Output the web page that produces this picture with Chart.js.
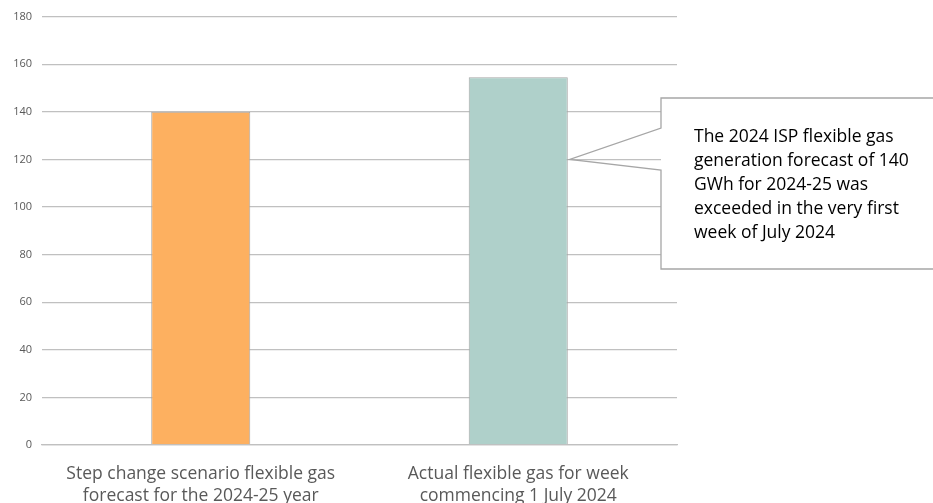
<!DOCTYPE html>
<html>
<head>
<meta charset="utf-8">
<script src="https://cdn.jsdelivr.net/npm/chart.js@4"></script>
<style>
html,body{margin:0;padding:0;background:#fff;}
#wrap{width:933px;height:503px;position:relative;}
</style>
</head>
<body>
<div id="wrap"><canvas id="gasChart"></canvas></div>
<script>
// categories and values
const categories = [
  ['Step change scenario flexible gas', 'forecast for the 2024-25 year'],
  ['Actual flexible gas for week', 'commencing 1 July 2024']
];
const gasValues = [140, 154.5];
const barColours = ['#FDB060', '#AFD0CA'];
const calloutLines = [
  'The 2024 ISP flexible gas',
  'generation forecast of 140',
  'GWh for 2024-25 was',
  'exceeded in the very first',
  'week of July 2024'
];
const calloutTarget = 120; // value where the pointer touches bar 2

//////////// callout box drawn over the chart
const calloutPlugin = {
  id: 'callout',
  afterDraw(chart) {
    const ctx = chart.ctx;
    const meta = chart.getDatasetMeta(0);
    const bar = meta.data[1];
    const tipX = bar.x + bar.width / 2 + 2;
    const tipY = chart.scales.y.getPixelForValue(calloutTarget);
    const left = 661, top = 98, bottom = 269, right = 940;
    const a = 128, b = 170;
    ctx.save();
    ctx.fillStyle = '#fff';
    ctx.fillRect(left, top, right - left, bottom - top);
    ctx.strokeStyle = '#a6a6a6';
    ctx.lineWidth = 1.3;
    ctx.beginPath();
    ctx.moveTo(right, top);
    ctx.lineTo(left, top);
    ctx.lineTo(left, a);
    ctx.lineTo(tipX, tipY);
    ctx.lineTo(left, b);
    ctx.lineTo(left, bottom);
    ctx.lineTo(right, bottom);
    ctx.stroke();
    ctx.fillStyle = '#000';
    ctx.font = '17.5px "Open Sans"';
    ctx.textBaseline = 'middle';
    calloutLines.forEach((t, i) => ctx.fillText(t, 694, 137 + i * 24));
    ctx.restore();
  }
};

const ctx = document.getElementById('gasChart').getContext('2d');
const gasChart = new Chart(ctx, {
  type: 'bar',
  data: {
    labels: categories,
    datasets: [{
      data: gasValues,
      backgroundColor: barColours,
      borderColor: '#a6a6a6',
      borderWidth: 1,
      barPercentage: 0.312,
      categoryPercentage: 1
    }]
  },
  options: {
    responsive: true,
    maintainAspectRatio: false,
    animation: false,
    layout: { padding: { top: 10, right: 256, bottom: 0, left: 0 } },
    plugins: { legend: { display: false }, tooltip: { enabled: false } },
    scales: {
      y: {
        min: 0,
        max: 180,
        ticks: { stepSize: 20, color: '#595959', font: { size: 11, family: '"Open Sans"' }, padding: 10 },
        grid: { color: '#c0c0c0', lineWidth: 1.3, drawTicks: false },
        border: { display: false },
        afterFit(scale) { scale.width = 42; }
      },
      x: {
        ticks: { color: '#595959', font: { size: 17.5, family: '"Open Sans"', lineHeight: 1.25 }, padding: 10, maxRotation: 0 },
        grid: { display: false },
        border: { color: '#c0c0c0', width: 1.3 },
        afterFit(scale) { scale.height = 58; }
      }
    }
  },
  plugins: [calloutPlugin]
});
</script>
</body>
</html>
